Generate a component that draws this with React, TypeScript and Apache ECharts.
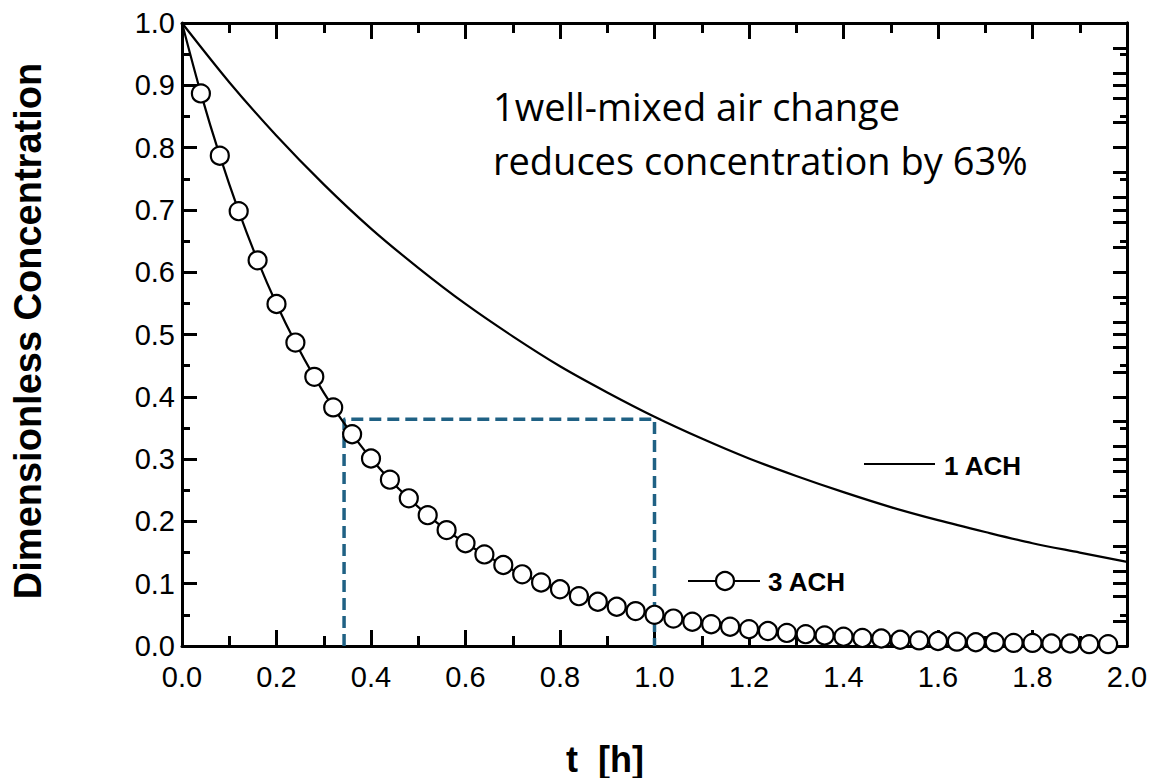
import React, { useEffect, useRef } from "react";
import * as echarts from "echarts";

// time [h] and dimensionless concentration, 1 ACH
const tHours1ACH = [0, 0.1, 0.2, 0.3, 0.4, 0.5, 0.6, 0.7, 0.8, 0.9, 1.0, 1.1, 1.2, 1.3, 1.4, 1.5, 1.6, 1.7, 1.8, 1.9, 2.0];
const conc1ACH = [1.0, 0.905, 0.819, 0.741, 0.67, 0.607, 0.549, 0.497, 0.449, 0.407, 0.368, 0.333, 0.301, 0.273, 0.247, 0.223, 0.202, 0.183, 0.165, 0.15, 0.135];

// time [h] and dimensionless concentration, 3 ACH (markers)
const tHours3ACH = [0, 0.04, 0.08, 0.12, 0.16, 0.2, 0.24, 0.28, 0.32, 0.36, 0.4, 0.44, 0.48, 0.52, 0.56, 0.6, 0.64, 0.68, 0.72, 0.76, 0.8, 0.84, 0.88, 0.92, 0.96, 1.0, 1.04, 1.08, 1.12, 1.16, 1.2, 1.24, 1.28, 1.32, 1.36, 1.4, 1.44, 1.48, 1.52, 1.56, 1.6, 1.64, 1.68, 1.72, 1.76, 1.8, 1.84, 1.88, 1.92, 1.96];
const conc3ACH = [1.0, 0.887, 0.787, 0.698, 0.619, 0.549, 0.487, 0.432, 0.383, 0.34, 0.301, 0.267, 0.237, 0.21, 0.186, 0.165, 0.147, 0.13, 0.115, 0.102, 0.091, 0.08, 0.071, 0.063, 0.056, 0.05, 0.044, 0.039, 0.035, 0.031, 0.027, 0.024, 0.021, 0.019, 0.017, 0.015, 0.013, 0.012, 0.01, 0.009, 0.008, 0.007, 0.006, 0.006, 0.005, 0.005, 0.004, 0.004, 0.003, 0.003];

// dashed guide (t, concentration)
const guideT = [0.343, 0.343, 1.0, 1.0];
const guideC = [0, 0.364, 0.364, 0];

const xTickLabels = ["0.0", "0.2", "0.4", "0.6", "0.8", "1.0", "1.2", "1.4", "1.6", "1.8", "2.0"];
const yTickLabels = ["0.0", "0.1", "0.2", "0.3", "0.4", "0.5", "0.6", "0.7", "0.8", "0.9", "1.0"];

const seriesNames = ["1 ACH", "3 ACH"];
const annotationLines = ["1well-mixed air change", "reduces concentration by 63%"];
const xTitle = "t  [h]";
const yTitle = "Dimensionless Concentration";

const BLACK = "#000";
const GUIDE = "#1f6184";
const LABEL_FONT = "'Liberation Sans', Arial, sans-serif";

export default function App() {
  const ref = useRef<HTMLDivElement>(null);

  useEffect(() => {
    if (!ref.current) return;
    const chart = echarts.init(ref.current, null, { renderer: "svg" });

    const tick = (len: number) => ({ show: true, inside: true, length: len, lineStyle: { color: BLACK, width: 3 } });
    const axisLine = { show: true, onZero: false, lineStyle: { color: BLACK, width: 3 } };

    const xBase = {
      type: "value" as const,
      min: 0,
      max: 2,
      interval: 0.2,
      axisLine,
      axisTick: tick(16),
      minorTick: { show: true, splitNumber: 2, length: 10, lineStyle: { color: BLACK, width: 3 } },
      splitLine: { show: false },
    };
    const yBase = {
      type: "value" as const,
      min: 0,
      max: 1,
      interval: 0.1,
      axisLine,
      axisTick: tick(15),
      minorTick: { show: true, splitNumber: 2, length: 8, lineStyle: { color: BLACK, width: 3 } },
      splitLine: { show: false },
    };

    const option: any = {
      animation: false,
      backgroundColor: "#fff",
      grid: { left: 182, right: 25, top: 23, bottom: 132, containLabel: false },
      xAxis: [
        {
          ...xBase,
          position: "bottom",
          axisLabel: {
            show: true,
            margin: 16,
            fontSize: 29,
            fontFamily: LABEL_FONT,
            color: BLACK,
            formatter: (v: number) => xTickLabels[Math.round(v / 0.2)] ?? v.toFixed(1),
          },
        },
        { ...xBase, position: "top", axisLabel: { show: false } },
      ],
      yAxis: [
        {
          ...yBase,
          position: "left",
          axisLabel: {
            show: true,
            margin: 7,
            fontSize: 29,
            fontFamily: LABEL_FONT,
            color: BLACK,
            formatter: (v: number) => yTickLabels[Math.round(v / 0.1)] ?? v.toFixed(1),
          },
        },
        { ...yBase, position: "right", axisTick: tick(14), minorTick: { show: true, splitNumber: 2, length: 7, lineStyle: { color: BLACK, width: 3 } }, axisLabel: { show: false } },
        {
          type: "value",
          position: "right",
          min: 0,
          max: 25,
          interval: 1,
          axisLine,
          axisTick: tick(14),
          axisLabel: { show: false },
          splitLine: { show: false },
        },
      ],
      series: [
        {
          name: "guide",
          type: "line",
          xAxisIndex: 0,
          yAxisIndex: 0,
          data: guideT.map((t, i) => [t, guideC[i]]),
          symbol: "none",
          lineStyle: { color: GUIDE, width: 3.5, type: [12, 6] },
          z: 1,
        },
        {
          name: seriesNames[0],
          type: "line",
          xAxisIndex: 0,
          yAxisIndex: 0,
          smooth: 0.3,
          data: tHours1ACH.map((t, i) => [t, conc1ACH[i]]),
          symbol: "none",
          lineStyle: { color: BLACK, width: 2.2 },
          z: 2,
        },
        {
          name: seriesNames[1],
          type: "line",
          xAxisIndex: 0,
          yAxisIndex: 0,
          smooth: 0.3,
          data: tHours3ACH.map((t, i) => (i === 0 ? { value: [t, conc3ACH[i]], symbol: "none" } : [t, conc3ACH[i]])),
          symbol: "circle",
          symbolSize: 18,
          showAllSymbol: true,
          clip: false,
          itemStyle: { color: "#fff", borderColor: BLACK, borderWidth: 2.2 },
          lineStyle: { color: BLACK, width: 2.2 },
          z: 3,
        },
      ],
      graphic: [
        {
          type: "text",
          x: 28,
          y: 331,
          rotation: Math.PI / 2,
          style: { text: yTitle, font: `bold 38px ${LABEL_FONT}`, fill: BLACK, align: "center", verticalAlign: "middle" },
        },
        {
          type: "text",
          x: 605,
          y: 759,
          style: { text: xTitle, font: `bold 36px ${LABEL_FONT}`, fill: BLACK, align: "center", verticalAlign: "middle" },
        },
        {
          type: "text",
          x: 493,
          y: 106,
          style: { text: annotationLines[0], font: `38px 'Open Sans', sans-serif`, fill: BLACK, align: "left", verticalAlign: "middle" },
        },
        {
          type: "text",
          x: 493,
          y: 160,
          style: { text: annotationLines[1], font: `38px 'Open Sans', sans-serif`, fill: BLACK, align: "left", verticalAlign: "middle" },
        },
        {
          type: "line",
          shape: { x1: 864, y1: 464, x2: 935, y2: 464 },
          style: { stroke: BLACK, lineWidth: 2 },
        },
        {
          type: "text",
          x: 944,
          y: 466,
          style: { text: seriesNames[0], font: `bold 26px ${LABEL_FONT}`, fill: BLACK, align: "left", verticalAlign: "middle" },
        },
        {
          type: "line",
          shape: { x1: 688, y1: 581, x2: 760, y2: 581 },
          style: { stroke: BLACK, lineWidth: 2 },
        },
        {
          type: "circle",
          shape: { cx: 725, cy: 581, r: 9 },
          style: { fill: "#fff", stroke: BLACK, lineWidth: 2.2 },
        },
        {
          type: "text",
          x: 768,
          y: 582,
          style: { text: seriesNames[1], font: `bold 26px ${LABEL_FONT}`, fill: BLACK, align: "left", verticalAlign: "middle" },
        },
      ],
    };

    chart.setOption(option);
    return () => chart.dispose();
  }, []);

  return (
    <div
      ref={ref}
      style={{ position: "fixed", left: 0, top: 0, width: 1152, height: 778, background: "#fff" }}
    />
  );
}
